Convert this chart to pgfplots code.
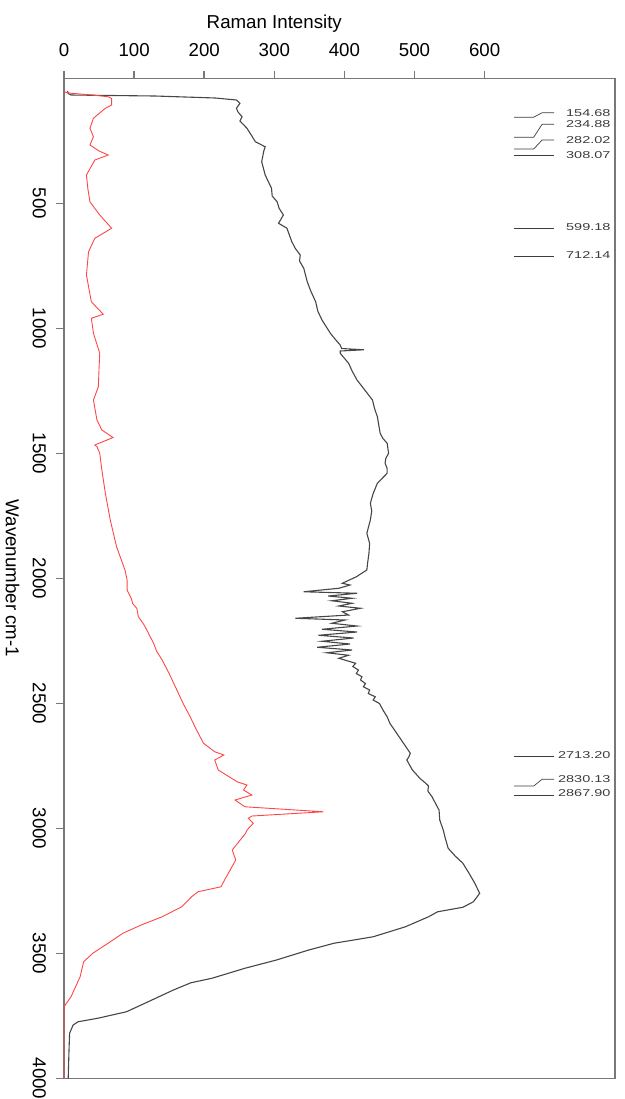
\documentclass[border=0pt]{standalone}
\usepackage{fontspec}
\setmainfont{Liberation Sans}
\usepackage{pgfplots}
\pgfplotsset{compat=1.18}

\definecolor{framegray}{RGB}{120,120,120}
\definecolor{specblack}{RGB}{70,70,70}
\definecolor{specred}{RGB}{255,70,70}
\definecolor{leadgray}{RGB}{60,60,60}

\newcommand{\lblfont}{\fontsize{18.7}{22}\selectfont}
\newcommand{\pkfont}{\fontsize{10}{12}\selectfont}
\tikzset{pklabel/.style={anchor=east, inner sep=0pt, xscale=1.45, font=\pkfont, text=leadgray},
         pklead/.style={leadgray, line width=0.7pt}}

\begin{document}
\begin{tikzpicture}
\path[use as bounding box] (0,0) rectangle (624pt,-1099pt);
\begin{axis}[
  at={(64pt,-78.5pt)}, anchor=origin,
  scale only axis, width=551pt, height=1000pt,
  xmin=0, xmax=786, ymin=0, ymax=4000,
  y dir=reverse,
  clip=false,
  axis line style={framegray, line width=1.5pt},
  tick style={draw=framegray, line width=1.5pt},
  tick align=outside, major tick length=8pt,
  xtick={0,100,...,600}, ytick={500,1000,...,4000},
  xtick pos=right, ytick pos=left,
  xticklabel pos=right, yticklabel pos=left,
  /pgf/number format/1000 sep={},
  /pgf/number format/assume math mode=true,
  tick label style={font=\lblfont},
  yticklabel style={rotate=-90, anchor=base},
  yticklabel shift=23pt,
  xticklabel shift=10pt,
]
% Raman spectrum of the sample (wavenumber, intensity)
\addplot[specblack, line width=1.1pt] table[x=I, y=w] {
w I
50 5
60 6
66 10
70 130
78 216
86 246
99 251
119 246
133 248
153 254
170 251
199 261
230 268
253 273
273 287
290 285
333 282
386 287
439 296
470 297
493 304
520 307
546 313
579 306
599 318
653 325
680 330
706 337
730 336
759 342
813 347
850 352
893 359
930 362
966 368
1019 380
1040 386
1066 394
1080 396
1085 428
1090 394
1099 394
1139 406
1170 411
1206 418
1253 431
1286 440
1320 443
1353 447
1419 451
1440 455
1459 461
1499 463
1520 459
1539 458
1560 461
1579 461
1619 447
1660 441
1699 437
1730 439
1766 437
1819 432
1860 436
1899 435
1940 433
1966 432
1993 417
2019 397
2026 408
2039 392
2053 342
2059 418
2070 377
2079 411
2089 382
2099 411
2110 392
2119 423
2133 397
2146 406
2159 330
2166 401
2179 382
2190 418
2203 368
2214 418
2227 363
2238 413
2251 368
2262 408
2275 361
2286 411
2297 375
2307 406
2319 392
2339 416
2352 412
2366 420
2380 417
2393 425
2406 423
2420 430
2433 427
2446 436
2460 434
2473 444
2486 441
2500 450
2526 455
2553 461
2580 465
2600 470
2633 478
2666 486
2699 494
2713 492
2726 489
2766 497
2800 508
2819 516
2830 520
2850 519
2873 525
2900 530
2926 535
2966 536
3006 541
3040 544
3079 548
3110 558
3139 569
3180 578
3219 586
3259 593
3293 584
3315 569
3333 533
3353 520
3393 487
3433 441
3459 385
3486 349
3526 303
3559 258
3599 211
3617 181
3646 156
3693 120
3733 89
3759 48
3773 20
3786 13
3819 8
3899 7
4000 6
};
% Reference spectrum
\addplot[specred, line width=0.9pt] table[x=I, y=w] {
w I
50 0
55 2
59 10
66 40
73 63
80 68
106 68
119 59
140 50
159 42
199 37
233 42
266 37
290 50
306 63
326 44
386 32
440 34
493 37
546 51
599 68
639 44
693 35
786 32
893 39
943 56
959 39
1019 42
1099 51
1160 50
1233 49
1286 42
1366 47
1406 54
1436 70
1466 44
1473 47
1499 51
1566 54
1659 59
1766 66
1873 75
1966 87
2006 90
2046 90
2080 96
2100 98
2120 104
2153 106
2180 113
2200 117
2233 123
2260 128
2290 132
2326 140
2380 150
2446 161
2500 170
2553 180
2600 188
2659 199
2693 215
2706 228
2726 215
2766 220
2813 247
2826 261
2846 256
2866 268
2886 244
2913 258
2933 370
2950 268
2959 263
2979 270
3006 261
3019 259
3086 240
3126 245
3206 229
3233 224
3253 191
3273 182
3313 168
3353 140
3386 110
3419 84
3466 59
3499 41
3533 28
3593 23
3673 10
3713 0
4000 0
};
% peak labels with leader lines
\draw[pklead] (axis cs:642,154.68) -- (axis cs:670,154.68) -- (axis cs:682,137) -- (axis cs:699,137);
\node[pklabel] at (axis cs:780,137) {154.68};
\draw[pklead] (axis cs:642,234.88) -- (axis cs:670,234.88) -- (axis cs:682,183) -- (axis cs:699,183);
\node[pklabel] at (axis cs:780,183) {234.88};
\draw[pklead] (axis cs:642,282.02) -- (axis cs:670,282.02) -- (axis cs:682,246) -- (axis cs:699,246);
\node[pklabel] at (axis cs:780,246) {282.02};
\draw[pklead] (axis cs:642,308.07) -- (axis cs:699,308.07);
\node[pklabel] at (axis cs:780,306) {308.07};
\draw[pklead] (axis cs:642,599.18) -- (axis cs:699,599.18);
\node[pklabel] at (axis cs:780,593) {599.18};
\draw[pklead] (axis cs:642,712.14) -- (axis cs:699,712.14);
\node[pklabel] at (axis cs:780,706) {712.14};
\draw[pklead] (axis cs:642,2713.20) -- (axis cs:699,2713.20);
\node[pklabel] at (axis cs:780,2706) {2713.20};
\draw[pklead] (axis cs:642,2830.13) -- (axis cs:670,2830.13) -- (axis cs:682,2803) -- (axis cs:699,2803);
\node[pklabel] at (axis cs:780,2803) {2830.13};
\draw[pklead] (axis cs:642,2867.90) -- (axis cs:699,2867.90);
\node[pklabel] at (axis cs:780,2859) {2867.90};
% axis titles
\node[font=\lblfont, anchor=base] at ([yshift=50pt]axis cs:300,0) {Raman Intensity};
\node[font=\lblfont, rotate=-90, anchor=base] at ([xshift=-58pt]axis cs:0,2000) {Wavenumber cm-1};
\end{axis}
\end{tikzpicture}
\end{document}
